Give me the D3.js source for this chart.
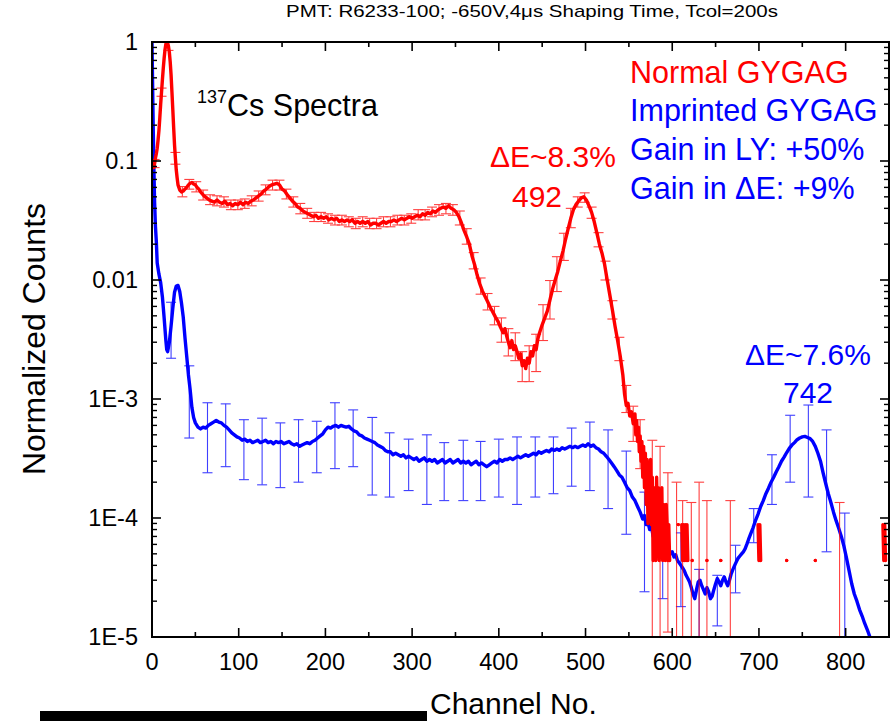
<!DOCTYPE html>
<html>
<head>
<meta charset="utf-8">
<script src="https://cdn.jsdelivr.net/npm/d3@7"></script>
<style>
  body { margin: 0; background: #fff; }
  svg { display: block; }
  text { font-family: "Liberation Sans", Arial, Helvetica, sans-serif; }
</style>
</head>
<body>
<svg id="chart" width="892" height="721"></svg>
<script>
// ---- axis ticks ----
const xMajorTicks = [0, 100, 200, 300, 400, 500, 600, 700, 800];
const xMinorTicks = [50, 150, 250, 350, 450, 550, 650, 750, 850];
const yDecades = [1e-5, 1e-4, 1e-3, 1e-2, 1e-1, 1];
const yTickLabels = ["1E-5", "1E-4", "1E-3", "0.01", "0.1", "1"];

// ---- Normal GYGAG spectrum: [channel, normalized counts] ----
const normalSpectrum = [
  [0,0.096],[1,0.092],[2,0.088],[3,0.095],[4,0.106],[5,0.115],[6,0.128],[7,0.15],[8,0.18],[9,0.23],
  [10,0.30],[11,0.38],[12,0.48],[13,0.60],[14,0.73],[15,0.86],[16,0.96],[17,1.0],[18,0.98],[19,0.92],
  [20,0.82],[21,0.68],[22,0.53],[23,0.38],[24,0.27],[25,0.19],[26,0.136],[27,0.105],[28,0.084],[29,0.072],
  [30,0.063],[32,0.057],[34,0.055],[36,0.056],[38,0.058],[40,0.060],[42,0.063],[44,0.065],[46,0.066],[48,0.064],
  [50,0.063],[52,0.060],[54,0.058],[56,0.055],[58,0.053],[60,0.051],[63,0.049],[66,0.047],[69,0.046],[72,0.045],
  [75,0.047],[78,0.045],[81,0.044],[84,0.046],[87,0.043],[90,0.044],[93,0.042],[96,0.044],[99,0.043],[102,0.045],
  [105,0.043],[108,0.045],[111,0.044],[114,0.046],[117,0.047],[120,0.049],[123,0.051],[126,0.053],[129,0.056],[132,0.058],
  [135,0.061],[138,0.063],[141,0.064],[144,0.065],[147,0.063],[150,0.058],[153,0.056],[156,0.052],[159,0.049],[162,0.046],
  [165,0.044],[168,0.041],[171,0.040],[174,0.038],[177,0.037],[180,0.036],[183,0.035],[186,0.034],[189,0.035],[192,0.033],
  [195,0.034],[198,0.033],[201,0.034],[204,0.032],[207,0.033],[210,0.032],[213,0.033],[216,0.031],[219,0.032],[222,0.031],
  [225,0.032],[228,0.031],[231,0.032],[234,0.030],[237,0.031],[240,0.030],[243,0.031],[246,0.030],[249,0.031],[252,0.029],
  [255,0.030],[258,0.030],[261,0.029],[264,0.030],[267,0.031],[270,0.030],[273,0.031],[276,0.031],[279,0.032],[282,0.031],
  [285,0.032],[288,0.033],[291,0.032],[294,0.033],[297,0.034],[300,0.033],[303,0.034],[306,0.035],[309,0.034],[312,0.036],
  [315,0.035],[318,0.037],[321,0.036],[324,0.038],[327,0.037],[330,0.039],[333,0.040],[336,0.041],[339,0.040],[342,0.042],
  [345,0.040],[348,0.039],[351,0.037],[354,0.034],[357,0.030],[360,0.026],[363,0.023],[366,0.020],[369,0.016],[372,0.0135],
  [375,0.011],[378,0.0093],[381,0.0081],[384,0.0073],[387,0.0066],[390,0.0059],[393,0.0054],[396,0.0049],[399,0.0045],[402,0.0040],
  [405,0.0036],[407,0.0039],[409,0.0034],[411,0.0030],[413,0.0027],[415,0.0031],[417,0.0026],[419,0.0028],[421,0.0025],[423,0.0022],
  [425,0.0024],[427,0.0019],[429,0.0021],[431,0.0018],[433,0.0022],[435,0.0020],[437,0.0025],[439,0.0023],[441,0.0028],[443,0.0026],
  [445,0.0032],[447,0.0036],[450,0.0042],[453,0.0048],[456,0.0055],[459,0.0068],[462,0.0084],[465,0.0100],[468,0.0118],[471,0.0145],
  [474,0.0175],[477,0.022],[480,0.027],[483,0.033],[486,0.039],[489,0.043],[492,0.046],[495,0.049],[498,0.050],[501,0.047],
  [504,0.042],[507,0.037],[510,0.031],[513,0.025],[516,0.020],[519,0.0168],[522,0.0135],[525,0.0100],[528,0.0075],[531,0.0056],
  [534,0.0041],[537,0.0031],[540,0.0023],[543,0.0016],[545,0.0011],[547,0.00088],[549,0.00092],[551,0.00072],[553,0.00078],[555,0.00062],
  [557,0.00075],[558,0.00050],[559,0.00066],[560,0.00044],[561,0.00058],[562,0.00036],[563,0.00049],[564,0.00030],[565,0.00044],[566,0.00022],
  [567,0.00040],[568,0.00018],[569,0.00035],[570,0.00013],[571,0.00031],[572,0.00009],[573,0.00026],[574,0.00013],[575,0.00031],[576,0.000088],
  [577,0.00022],[578,0.000044],[579,0.00018],[580,0.00013],[581,0.000044],[582,0.00022],[583,0.000088],[584,0.00018],[585,0.000044],[586,0.00013],
  [587,0.000088],[588,0.00018],[589,0.000044],[590,0.00013],[591,0.000088],[592,0.000044],[593,0.00013],[594,0.000088],[595,0.000044],[596,0.000088],
  [597,0.000044],[598,0],[607,0.000088],[608,0],[611,0.000088],[612,0.000044],[613,0.000088],[614,0.000044],[615,0.000088],[616,0.000044],
  [617,0.000088],[618,0.000044],[619,0],[623,0.000044],[624,0],[640,0.000044],[641,0],[656,0.000044],[657,0],[699,0.000088],
  [700,0.000044],[701,0.000088],[702,0.000044],[703,0],[732,0.000044],[733,0],[765,0.000044],[766,0],[843,0.000088],[844,0.000044],
  [845,0.000088],[846,0.000044]
];

// ---- Imprinted GYGAG spectrum: [channel, normalized counts] ----
const imprintedSpectrum = [
  [0,1.0],[1,0.3],[2,0.1],[3,0.045],[4,0.028],[5,0.021],[6,0.0139],[8,0.0112],[10,0.0095],[12,0.0072],
  [14,0.0048],[16,0.0031],[17,0.0026],[18,0.0025],[20,0.0030],[22,0.0041],[24,0.0058],[26,0.0079],[28,0.0089],[30,0.0090],
  [32,0.0080],[34,0.0064],[36,0.0049],[38,0.0033],[40,0.0023],[42,0.0016],[44,0.0012],[46,0.00085],[48,0.00070],[50,0.00063],
  [53,0.00058],[56,0.00056],[59,0.00058],[62,0.00057],[65,0.00060],[68,0.00062],[71,0.00064],[74,0.00066],[77,0.00064],[80,0.00063],
  [83,0.00060],[86,0.00058],[89,0.00055],[92,0.00052],[95,0.00050],[98,0.00048],[101,0.00047],[104,0.00045],[107,0.00046],[110,0.00044],
  [113,0.00045],[116,0.00043],[119,0.00044],[122,0.00045],[125,0.00043],[128,0.00044],[131,0.00045],[134,0.00043],[137,0.00044],[140,0.00042],
  [143,0.00044],[146,0.00043],[149,0.00044],[152,0.00042],[155,0.00043],[158,0.00044],[161,0.00042],[164,0.00041],[167,0.00042],[170,0.00040],
  [173,0.00041],[176,0.00042],[179,0.00043],[182,0.00042],[185,0.00044],[188,0.00045],[191,0.00047],[194,0.00049],[197,0.00051],[200,0.00055],
  [203,0.00058],[206,0.00057],[209,0.00059],[212,0.00060],[215,0.00058],[218,0.00060],[221,0.00059],[224,0.00058],[227,0.00059],[230,0.00056],
  [233,0.00054],[236,0.00053],[239,0.00050],[242,0.00049],[245,0.00047],[248,0.00046],[251,0.00045],[254,0.00044],[257,0.00043],[260,0.00041],
  [263,0.00040],[266,0.00039],[269,0.00037],[272,0.00036],[275,0.00036],[278,0.00034],[281,0.00035],[284,0.00034],[287,0.00033],[290,0.00034],
  [293,0.00032],[296,0.00033],[299,0.00032],[302,0.00031],[305,0.00032],[308,0.00030],[311,0.00031],[314,0.00032],[317,0.00030],[320,0.00031],
  [323,0.00030],[326,0.00031],[329,0.00029],[332,0.00030],[335,0.00031],[338,0.00029],[341,0.00030],[344,0.00031],[347,0.00029],[350,0.00030],
  [353,0.00031],[356,0.00029],[359,0.00030],[362,0.00029],[365,0.00030],[368,0.00028],[371,0.00029],[374,0.00030],[377,0.00028],[380,0.00029],
  [383,0.00028],[386,0.00027],[389,0.00028],[392,0.00029],[395,0.00030],[398,0.00029],[401,0.00031],[404,0.00030],[407,0.00031],[410,0.00031],
  [413,0.00032],[416,0.00031],[419,0.00032],[422,0.00033],[425,0.00032],[428,0.00033],[431,0.00034],[434,0.00033],[437,0.00034],[440,0.00035],
  [443,0.00034],[446,0.00036],[449,0.00035],[452,0.00036],[455,0.00037],[458,0.00036],[461,0.00038],[464,0.00037],[467,0.00038],[470,0.00037],
  [473,0.00039],[476,0.00038],[479,0.00039],[482,0.00040],[485,0.00039],[488,0.00040],[491,0.00039],[494,0.00040],[497,0.00041],[500,0.00040],
  [503,0.00042],[506,0.00040],[509,0.00041],[512,0.00039],[515,0.00038],[518,0.00036],[521,0.00035],[524,0.00033],[527,0.00031],[530,0.00029],
  [533,0.00027],[536,0.00025],[539,0.00023],[542,0.00022],[545,0.00020],[548,0.00018],[551,0.00017],[554,0.00015],[557,0.00014],[560,0.000125],
  [563,0.000112],[566,0.000098],[568,0.000105],[570,0.000088],[572,0.000092],[574,0.000080],[576,0.000085],[578,0.000070],[580,0.000068],[582,0.000062],
  [584,0.000066],[586,0.000058],[588,0.000060],[590,0.000056],[592,0.000058],[594,0.000053],[596,0.000055],[598,0.000050],[600,0.000052],[602,0.000047],
  [604,0.000049],[606,0.000044],[608,0.000042],[610,0.000040],[612,0.000038],[614,0.000036],[616,0.000033],[618,0.000031],[620,0.000029],[622,0.000026],
  [624,0.000023],[626,0.000021],[628,0.000025],[630,0.000029],[632,0.000030],[634,0.000027],[636,0.000025],[638,0.000023],[640,0.000026],[642,0.000024],
  [644,0.000021],[646,0.000022],[648,0.000025],[650,0.000028],[652,0.000031],[654,0.000029],[656,0.000027],[658,0.000030],[660,0.000032],[662,0.000029],
  [664,0.000027],[666,0.000030],[668,0.000034],[670,0.000037],[672,0.000040],[674,0.000043],[676,0.000046],[678,0.000048],[680,0.000050],[682,0.000052],
  [684,0.000055],[686,0.000060],[688,0.000066],[690,0.000072],[693,0.000082],[696,0.000095],[699,0.000108],[702,0.000125],[705,0.000140],[708,0.000160],
  [711,0.000178],[714,0.000200],[717,0.000220],[720,0.000245],[723,0.000270],[726,0.000300],[729,0.000325],[732,0.000355],[735,0.000385],[738,0.000410],
  [741,0.000430],[744,0.000455],[747,0.000470],[750,0.000480],[753,0.000485],[756,0.000475],[759,0.000465],[762,0.000440],[765,0.000400],[768,0.000350],
  [771,0.000300],[774,0.000240],[777,0.000195],[780,0.000160],[783,0.000135],[786,0.000112],[789,0.000095],[792,0.000082],[795,0.000070],[798,0.000058],
  [801,0.000046],[804,0.000036],[807,0.000028],[810,0.000023],[813,0.000020],[816,0.000017],[819,0.000015],[822,0.000013],[825,0.0000115],[828,0.000010],
  [831,0.0000085]
];

// ---- error bars: [channel, lower, upper]; a lower of 0 runs off the axis ----
const normalErrors = [
  [3,0.088,0.103],[11,0.35,0.41],[19,0.85,0.99],[27,0.094,0.118],[35,0.050,0.061],[43,0.058,0.070],[51,0.055,0.067],
  [59,0.047,0.057],[67,0.043,0.052],[75,0.042,0.051],[83,0.041,0.050],[91,0.039,0.047],[99,0.039,0.047],[107,0.040,0.048],
  [115,0.042,0.051],[123,0.046,0.056],[131,0.052,0.063],[139,0.057,0.069],[147,0.057,0.069],[155,0.048,0.058],[163,0.041,0.050],
  [171,0.036,0.044],[179,0.033,0.040],[187,0.031,0.037],[195,0.031,0.037],[203,0.030,0.036],[211,0.029,0.035],[219,0.029,0.035],
  [227,0.028,0.034],[235,0.027,0.033],[243,0.028,0.034],[251,0.027,0.033],[259,0.027,0.033],[267,0.028,0.034],[275,0.028,0.034],
  [283,0.029,0.035],[291,0.029,0.035],[299,0.030,0.036],[307,0.032,0.039],[315,0.032,0.039],[323,0.034,0.041],[331,0.035,0.043],
  [339,0.036,0.044],[347,0.035,0.043],[355,0.029,0.038],[363,0.020,0.027],[371,0.0124,0.017],[379,0.0076,0.0104],[387,0.0056,0.0077],
  [395,0.0042,0.0060],[403,0.0030,0.0048],[411,0.0023,0.0039],[419,0.0021,0.0036],[427,0.0014,0.0025],[435,0.0014,0.0028],
  [443,0.0017,0.0035],[451,0.0031,0.0062],[459,0.0047,0.0099],[467,0.008,0.0157],[475,0.0146,0.0247],[483,0.0275,0.040],
  [491,0.041,0.050],[499,0.045,0.054],[507,0.033,0.041],[515,0.019,0.025],[523,0.010,0.0144],[531,0.0047,0.0067],
  [539,0.0021,0.0033],[547,0.00077,0.0013],[555,0.00044,0.00087],[563,0.00026,0.00067],
  [577,0,0.00045],[586,0,0.00040],[595,0.000011,0.00024],[605,0,0.00020],[612,0,0.00014],[622,0,0.000135],
  [631,0,0.00020],[640,0,0.00014],[667,0,0.00014],[793,0,0.000135]
];
const imprintedErrors = [
  [22,0.0022,0.0065],[43,0.00047,0.0019],[64,0.00024,0.00093],[85,0.00027,0.00091],[106,0.00021,0.00067],[127,0.00019,0.00069],
  [148,0.00018,0.00063],[169,0.00020,0.00067],[190,0.00024,0.00065],[211,0.00026,0.00093],[232,0.00027,0.00081],[254,0.000156,0.00070],
  [274,0.00015,0.00052],[296,0.00017,0.00046],[317,0.00013,0.00050],[337,0.00014,0.00043],[359,0.00014,0.00045],[379,0.00014,0.00044],
  [400,0.00015,0.00046],[421,0.00013,0.00048],[442,0.00015,0.00048],[463,0.00016,0.00048],[484,0.000185,0.00057],[505,0.00017,0.00064],
  [526,0.00012,0.00055],[547,0.000073,0.000365],[568,0.000024,0.000165],[589,0.000021,0.000069],[610,0.000018,0.000075],
  [631,0.000010,0.000037],[652,0.0000124,0.000033],[673,0.0000235,0.000059],[694,0.000062,0.00012],[715,0.00013,0.00034],
  [736,0.00020,0.00073],[757,0.00015,0.00089],[778,0.000052,0.00055],[799,0,0.00011]
];

// ---- colours ----
const normalColor = "#ff0000";
const imprintedColor = "#0000ff";

// ---- layout ----
const svg = d3.select("#chart");
const x = d3.scaleLinear().domain([0, 850]).range([152, 889]);
const y = d3.scaleLog().domain([1e-5, 1]).range([637, 42]);
const [x0, x1] = x.range();
const [yb, yt] = y.range();

svg.append("defs").append("clipPath").attr("id", "plot-clip")
  .append("rect").attr("x", x0).attr("y", yt).attr("width", x1 - x0).attr("height", yb - yt);

const plot = svg.append("g").attr("clip-path", "url(#plot-clip)");

function drawErrors(data, color) {
  const g = plot.append("g").attr("stroke", color).attr("stroke-width", 1.1).attr("opacity", 0.75).attr("fill", "none");
  data.forEach(([c, lo, hi]) => {
    const cx = x(c);
    const yHi = y(hi);
    const yLo = lo > 0 ? y(lo) : yb + 5;
    g.append("line").attr("x1", cx).attr("x2", cx).attr("y1", yHi).attr("y2", yLo);
    g.append("line").attr("x1", cx - 5).attr("x2", cx + 5).attr("y1", yHi).attr("y2", yHi);
    if (lo > 0) g.append("line").attr("x1", cx - 5).attr("x2", cx + 5).attr("y1", yLo).attr("y2", yLo);
  });
}

function drawSpectrum(data, color) {
  const line = d3.line().defined(d => d[1] > 0).x(d => x(d[0])).y(d => y(d[1]));
  plot.append("path").datum(data).attr("d", line).attr("fill", "none")
    .attr("stroke", color).attr("stroke-width", 3.4).attr("stroke-linejoin", "round").attr("stroke-linecap", "round");
  // isolated single channels show as dots
  data.forEach((d, i) => {
    if (d[1] <= 0) return;
    const prev = data[i - 1], next = data[i + 1];
    if ((!prev || prev[1] <= 0) && (!next || next[1] <= 0)) {
      plot.append("circle").attr("cx", x(d[0])).attr("cy", y(d[1])).attr("r", 1.6).attr("fill", color);
    }
  });
}

drawErrors(imprintedErrors, imprintedColor);
drawSpectrum(imprintedSpectrum, imprintedColor);
drawErrors(normalErrors, normalColor);
drawSpectrum(normalSpectrum, normalColor);

// ---- frame and ticks (inward, all four sides) ----
const axes = svg.append("g").attr("stroke", "#000").attr("fill", "none");
axes.append("rect").attr("x", x0).attr("y", yt).attr("width", x1 - x0).attr("height", yb - yt).attr("stroke-width", 2);

const majorLen = 9, minorLen = 5;
xMajorTicks.concat(xMinorTicks).forEach(v => {
  const len = xMajorTicks.includes(v) ? majorLen : minorLen;
  const px = x(v);
  if (px >= x1 - 1) return;
  axes.append("line").attr("x1", px).attr("x2", px).attr("y1", yb).attr("y2", yb - len).attr("stroke-width", 1.6);
  axes.append("line").attr("x1", px).attr("x2", px).attr("y1", yt).attr("y2", yt + len).attr("stroke-width", 1.6);
});
yDecades.forEach((dec, i) => {
  const py = y(dec);
  axes.append("line").attr("x1", x0).attr("x2", x0 + majorLen).attr("y1", py).attr("y2", py).attr("stroke-width", 1.6);
  axes.append("line").attr("x1", x1).attr("x2", x1 - majorLen).attr("y1", py).attr("y2", py).attr("stroke-width", 1.6);
  if (i < yDecades.length - 1) {
    for (let m = 2; m <= 9; m++) {
      const my = y(dec * m);
      axes.append("line").attr("x1", x0).attr("x2", x0 + minorLen).attr("y1", my).attr("y2", my).attr("stroke-width", 1.4);
      axes.append("line").attr("x1", x1).attr("x2", x1 - minorLen).attr("y1", my).attr("y2", my).attr("stroke-width", 1.4);
    }
  }
});

// ---- tick labels ----
const labels = svg.append("g").attr("fill", "#000").attr("font-size", 23.5);
yDecades.forEach((dec, i) => {
  labels.append("text").attr("x", 138).attr("y", y(dec)).attr("dy", "0.35em")
    .attr("text-anchor", "end").text(yTickLabels[i]);
});
xMajorTicks.forEach(v => {
  labels.append("text").attr("x", x(v)).attr("y", 670).attr("text-anchor", "middle").text(v);
});

// ---- titles ----
svg.append("text").attr("x", 286).attr("y", 17).attr("font-size", 17)
  .attr("textLength", 492).attr("lengthAdjust", "spacingAndGlyphs")
  .text("PMT: R6233-100; -650V,4\u03bcs Shaping Time, Tcol=200s");
svg.append("text").attr("transform", "translate(45,339) rotate(-90)").attr("text-anchor", "middle")
  .attr("font-size", 32).text("Normalized Counts");
svg.append("text").attr("x", 430).attr("y", 714).attr("font-size", 30).text("Channel No.");
svg.append("rect").attr("x", 40).attr("y", 711).attr("width", 387).attr("height", 10).attr("fill", "#000");

// ---- annotations ----
const cs = svg.append("text").attr("x", 197).attr("y", 116).attr("font-size", 30.5);
cs.append("tspan").attr("font-size", 18).attr("dy", -13).text("137");
cs.append("tspan").attr("dy", 13).text("Cs Spectra");

const legend = [
  ["Normal GYGAG", normalColor, 83],
  ["Imprinted GYGAG", imprintedColor, 121],
  ["Gain in LY: +50%", imprintedColor, 160],
  ["Gain in \u0394E: +9%", imprintedColor, 199]
];
legend.forEach(([t, c, ty]) => {
  svg.append("text").attr("x", 630).attr("y", ty).attr("font-size", 30.5).attr("fill", c).text(t);
});

const peakNotes = [
  ["\u0394E~8.3%", normalColor, 553, 167],
  ["492", normalColor, 537, 207],
  ["\u0394E~7.6%", imprintedColor, 808, 365],
  ["742", imprintedColor, 808, 403]
];
peakNotes.forEach(([t, c, tx, ty]) => {
  svg.append("text").attr("x", tx).attr("y", ty).attr("text-anchor", "middle")
    .attr("font-size", 30).attr("fill", c).text(t);
});
</script>
</body>
</html>
